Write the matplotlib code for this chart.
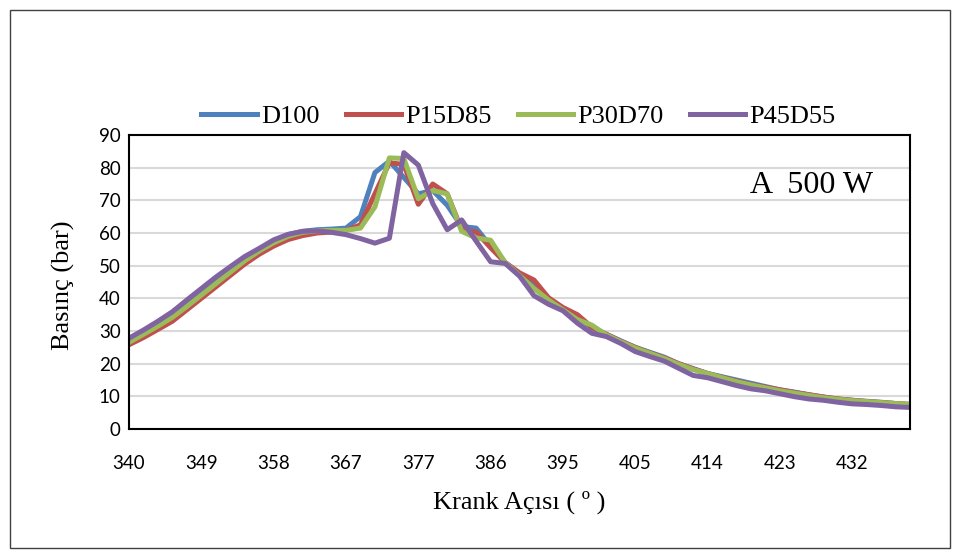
import numpy as np
import matplotlib
matplotlib.use("Agg")
import matplotlib.pyplot as plt
from matplotlib.patches import Rectangle

# crank angle tick labels (every 5th sample)
tick_labels = ["340", "349", "358", "367", "377", "386", "395", "405", "414", "423", "432"]

# cylinder pressure (bar) per sample
D100 = [27.0, 29.5, 32.5, 35.0, 38.0, 41.5, 45.0, 48.5, 52.0, 55.0,
        57.5, 59.5, 60.5, 61.0, 61.2, 61.5, 65.0, 78.5, 82.0, 77.0,
        72.0, 73.0, 68.5, 62.0, 61.5, 56.0, 51.0, 47.5, 44.5, 40.0,
        37.0, 34.5, 31.0, 29.0, 27.0, 25.0, 23.5, 22.0, 20.0, 18.5,
        17.0, 16.0, 15.0, 14.0, 13.0, 12.0, 11.3, 10.5, 9.8, 9.2,
        8.8, 8.5, 8.2, 7.8, 7.5]
P15D85 = [25.8, 28.0, 30.5, 33.0, 36.5, 40.0, 43.5, 47.0, 50.5, 53.5,
          56.0, 58.0, 59.2, 60.0, 60.3, 60.8, 62.5, 72.0, 81.5, 81.0,
          68.8, 75.0, 72.0, 61.0, 60.3, 55.5, 51.0, 47.8, 45.6, 40.2,
          37.2, 35.0, 31.2, 29.0, 26.8, 25.0, 23.3, 21.8, 20.0, 18.4,
          17.0, 15.8, 14.7, 13.6, 12.8, 12.0, 11.2, 10.5, 9.8, 9.2,
          8.8, 8.4, 8.1, 7.8, 7.5]
P30D70 = [26.5, 29.0, 31.5, 34.2, 37.5, 41.0, 44.5, 48.0, 51.5, 54.5,
          57.0, 59.0, 60.2, 60.7, 60.8, 60.8, 61.5, 68.0, 83.0, 82.8,
          70.5, 73.0, 72.0, 60.5, 58.5, 57.8, 51.0, 47.0, 43.0, 39.5,
          36.5, 33.5, 31.8, 28.8, 26.7, 24.8, 23.2, 21.6, 19.8, 18.2,
          17.0, 15.7, 14.5, 13.5, 12.6, 11.7, 11.0, 10.3, 9.6, 9.1,
          8.7, 8.4, 8.1, 7.8, 7.6]
P45D55 = [27.8, 30.3, 33.0, 35.9, 39.5, 43.0, 46.5, 49.7, 52.8, 55.3,
          57.9, 59.6, 60.5, 60.7, 60.2, 59.5, 58.3, 56.9, 58.4, 84.6,
          80.8, 69.0, 61.0, 64.0, 57.5, 51.2, 50.7, 46.8, 40.8, 38.2,
          36.2, 32.4, 29.3, 28.3, 26.2, 23.7, 22.2, 20.8, 18.6, 16.4,
          15.7, 14.5, 13.3, 12.3, 11.7, 10.8, 9.9, 9.2, 8.8, 8.2,
          7.7, 7.5, 7.2, 6.8, 6.6]

series = [("D100", D100, "#4F81BD"),
          ("P15D85", P15D85, "#C0504D"),
          ("P30D70", P30D70, "#9BBB59"),
          ("P45D55", P45D55, "#8064A2")]

serif = "Liberation Serif"
sans = "Lato"

fig = plt.figure(figsize=(9.6, 5.54), dpi=100)
ax = fig.add_axes([0.1344, 0.2256, 0.8136, 0.5307])

x = np.arange(len(D100))
for name, vals, col in series:
    ax.plot(x, vals, color=col, lw=3.6, label=name, solid_joinstyle="round")

ax.set_xlim(0, len(D100) - 1)
ax.set_ylim(0, 90)
ax.set_yticks(np.arange(0, 91, 10))
ax.set_xticks(x[::5][:len(tick_labels)])
ax.set_xticklabels(tick_labels)
ax.tick_params(length=0, labelsize=13.5)
ax.tick_params(axis="x", pad=19)
ax.tick_params(axis="y", pad=6)
for lab in ax.get_xticklabels() + ax.get_yticklabels():
    lab.set_fontfamily(sans)
ax.yaxis.grid(True, color="#d9d9d9", lw=1.5)
ax.set_axisbelow(True)
for sp in ax.spines.values():
    sp.set_color("black")
    sp.set_linewidth(1.5)

fig.text(63 / 960, 1 - 285 / 554, "Basınç (bar)", rotation=90, ha="center", va="center",
         fontfamily=serif, fontsize=19)
fig.text(519 / 960, 1 - 502 / 554, "Krank Açısı ( º )", ha="center", va="center",
         fontfamily=serif, fontsize=19)
fig.text(812 / 960, 1 - 185 / 554, "A  500 W", ha="center", va="center",
         fontfamily=serif, fontsize=23)

fig.legend(loc="center", bbox_to_anchor=(0.54, 0.79), ncol=4, frameon=False,
           prop={"family": serif, "size": 19}, handlelength=2.1,
           columnspacing=1.0, handletextpad=0.15)

fig.patches.append(Rectangle((0.0104, 0.0108), 0.979, 0.972, transform=fig.transFigure,
                             fill=False, edgecolor="#404040", lw=1))

fig.savefig("out.png", dpi=100)
